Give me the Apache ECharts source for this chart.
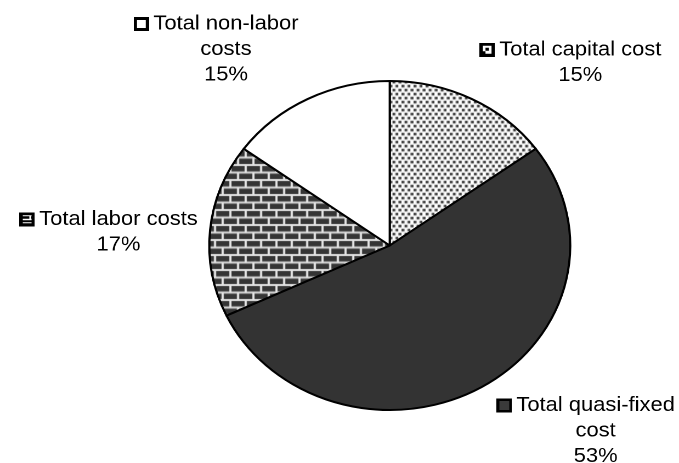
<!DOCTYPE html>
<html>
<head>
<meta charset="utf-8">
<script src="https://cdn.jsdelivr.net/npm/echarts@6/dist/echarts.min.js"></script>
<style>
  html, body { margin: 0; padding: 0; background: #fff; }
  #frame { width: 679px; height: 463px; overflow: hidden; position: relative; }
  /* the chart is laid out on a narrower canvas and widened, giving the oval pie and wide type */
  #chart { width: 619px; height: 463px; transform: scaleX(1.09693); transform-origin: 0 0; }
</style>
</head>
<body>
<div id="frame"><div id="chart"></div></div>
<script>
// Cost shares, clockwise from twelve o'clock
const categories = ['Total capital cost', 'Total quasi-fixed cost', 'Total labor costs', 'Total non-labor costs'];
const shares = [15, 53, 17, 15];
// How each category name is broken over lines in its label
const labelLines = [
  ['Total capital cost'],
  ['Total quasi-fixed', 'cost'],
  ['Total labor costs'],
  ['Total non-labor', 'costs']
];

const FONT = '"Liberation Sans", Arial, sans-serif';

function makeTile(w, h, draw) {
  const c = document.createElement('canvas');
  c.width = w; c.height = h;
  draw(c.getContext('2d'), w, h);
  return c;
}

// Fill patterns
const dotTile = makeTile(11, 8, (g) => {
  g.fillStyle = '#ffffff'; g.fillRect(0, 0, 11, 8);
  g.fillStyle = '#2e2e2e';
  [[0.3, 0.8], [5.8, 0.8], [3.05, 4.8], [8.55, 4.8]].forEach(([x, y]) => g.fillRect(x, y, 2.6, 2.6));
});
const brickTile = makeTile(14, 15, (g) => {
  g.fillStyle = '#e4e4e4'; g.fillRect(0, 0, 14, 15);
  g.fillStyle = '#353535';
  g.fillRect(1, 1, 12, 5.5);
  g.fillRect(-6, 8.5, 12, 5.5);
  g.fillRect(8, 8.5, 12, 5.5);
});

const fills = [
  { image: dotTile, repeat: 'repeat' },
  '#333333',
  { image: brickTile, repeat: 'repeat' },
  '#ffffff'
];

// Legend keys shown in front of each label
const S = 28; // drawn at 2x, shown at 14px
const keyIcons = [
  makeTile(S, S, (g) => {
    g.fillStyle = '#000'; g.fillRect(0, 0, S, S);
    g.fillStyle = '#fff'; g.fillRect(6, 6, S - 12, S - 12);
    g.fillStyle = '#000'; g.fillRect(11, 10, 6, 6);
    g.fillRect(6, 17, 5, 5);
  }),
  makeTile(S, S, (g) => {
    g.fillStyle = '#000'; g.fillRect(0, 0, S, S);
    g.fillStyle = '#3a3a3a'; g.fillRect(5, 5, S - 10, S - 10);
  }),
  makeTile(S, S, (g) => {
    g.fillStyle = '#000'; g.fillRect(0, 0, S, S);
    g.fillStyle = '#fff';
    g.fillRect(6, 13, S - 12, 3);
    g.fillRect(6, 6, S - 12, 2);
    g.fillRect(S - 10, 6, 3, 9);
    g.fillRect(6, 20, S - 12, 2);
  }),
  makeTile(S, S, (g) => {
    g.fillStyle = '#000'; g.fillRect(0, 0, S, S);
    g.fillStyle = '#fff'; g.fillRect(6, 6, S - 12, S - 12);
  })
];

const rich = {
  g: { width: 4 },
  s: { width: 18 },
  t: { fontSize: 20, lineHeight: 25.5, fontFamily: FONT, color: '#000', align: 'center', verticalAlign: 'middle' }
};
keyIcons.forEach((img, i) => {
  rich['k' + i] = { width: 14, height: 14, backgroundColor: { image: img }, align: 'center', verticalAlign: 'middle' };
});

// Label block centres on the chart canvas
const labelPos = [[529, 62.5], [543, 431], [108, 232], [206, 49.5]];

const chart = echarts.init(document.getElementById('chart'), null, { renderer: 'canvas', devicePixelRatio: 2 });
chart.setOption({
  animation: false,
  backgroundColor: '#ffffff',
  series: [{
    type: 'pie',
    center: [355.3, 245.5],
    radius: 164.5,
    startAngle: 90,
    clockwise: true,
    avoidLabelOverlap: false,
    silent: true,
    emphasis: { disabled: true },
    itemStyle: { borderColor: '#000000', borderWidth: 2 },
    label: {
      show: true,
      position: 'outside',
      color: '#000',
      fontFamily: FONT,
      fontSize: 20,
      formatter: (p) => {
        const lines = labelLines[p.dataIndex];
        let s = '{k' + p.dataIndex + '|}{g|}{t|' + lines[0] + '}{s|}';
        for (let i = 1; i < lines.length; i++) s += '\n{t|' + lines[i] + '}';
        s += '\n{t|' + Math.round(p.percent) + '%}';
        return s;
      },
      rich: rich
    },
    labelLine: { show: false },
    labelLayout: (p) => ({
      x: labelPos[p.dataIndex][0],
      y: labelPos[p.dataIndex][1],
      align: 'center',
      verticalAlign: 'middle',
      hideOverlap: false
    }),
    data: categories.map((name, i) => ({ name: name, value: shares[i], itemStyle: { color: fills[i] } }))
  }]
});
</script>
</body>
</html>
